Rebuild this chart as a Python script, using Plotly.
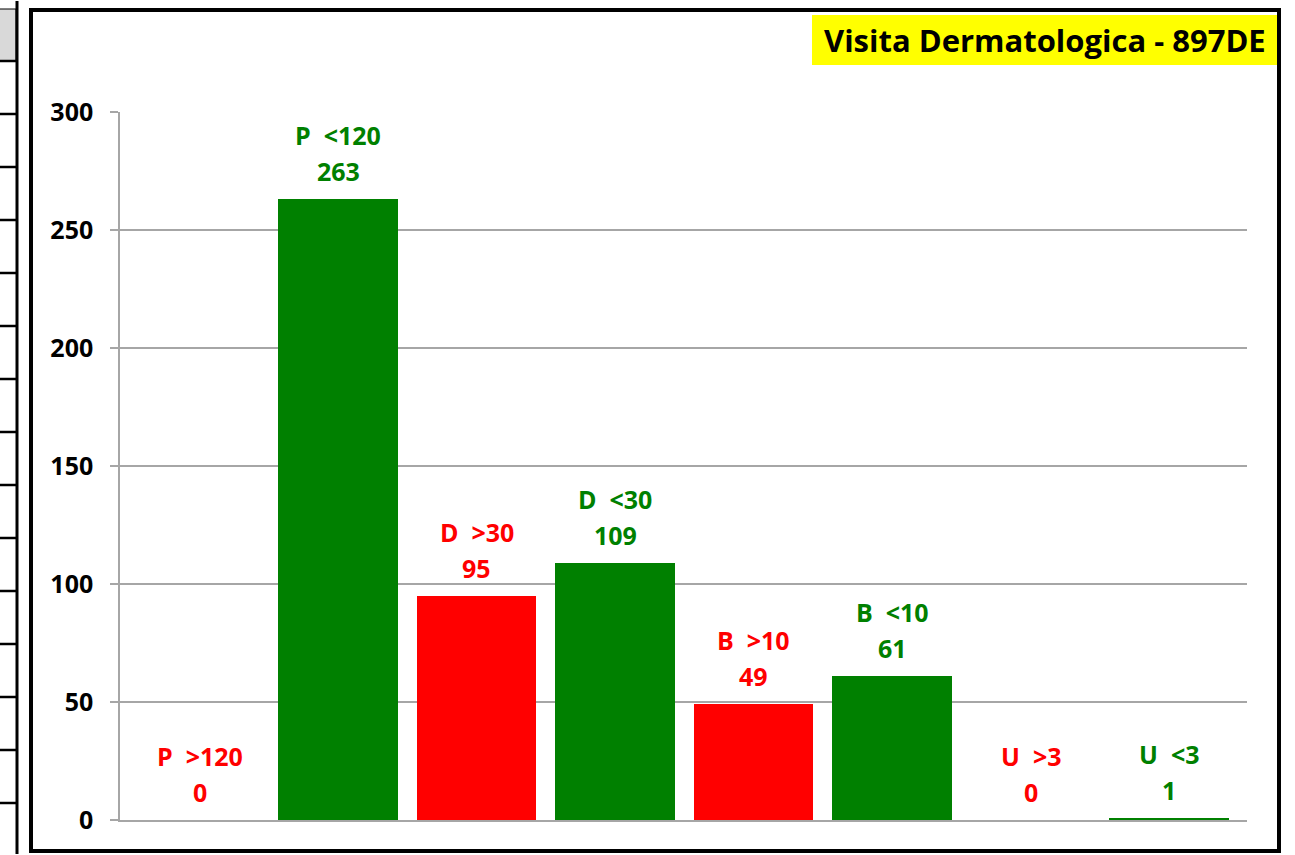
import plotly.graph_objects as go

# ---- data ----
categories = ["P >120", "P <120", "D >30", "D <30", "B >10", "B <10", "U >3", "U <3"]
values = [0, 263, 95, 109, 49, 61, 0, 1]
status = ["over", "within", "over", "within", "over", "within", "over", "within"]
y_ticks = [0, 50, 100, 150, 200, 250, 300]
title_text = "Visita Dermatologica - 897DE"

# ---- styles ----
W, H = 1295, 855
L, R, T, B = 120, 1247, 112, 820
GREEN, RED = "#008000", "#FF0000"
GRID = "#A6A6A6"
FONT = "Open Sans"
colors = [RED if s == "over" else GREEN for s in status]


def px(x):
    return (x - L) / (R - L)


def py(y):
    return (B - y) / (B - T)


def esc(s):
    return s.replace("<", "&lt;").replace(">", "&gt;").replace(" ", "&nbsp;&nbsp;")


xs = list(range(len(categories)))

fig = go.Figure()
fig.add_trace(go.Bar(
    x=xs, y=values, width=0.866, marker=dict(color=colors, line=dict(width=0)),
    hoverinfo="skip", showlegend=False,
))

annotations = []
for x, v, c, col in zip(xs, values, categories, colors):
    annotations.append(dict(x=x, y=v, xref="x", yref="y", text=f"<b>{v}</b>",
                            showarrow=False, yanchor="middle", yshift=28,
                            font=dict(family=FONT, size=25, color=col)))
    annotations.append(dict(x=x, y=v, xref="x", yref="y", text=f"<b>{esc(c)}</b>",
                            showarrow=False, yanchor="middle", yshift=64,
                            font=dict(family=FONT, size=25, color=col)))

# title with yellow box
annotations.append(dict(x=px(1268), y=py(40), xref="paper", yref="paper",
                        text=f"<b>{title_text}</b>", showarrow=False,
                        xanchor="right", yanchor="middle",
                        font=dict(family=FONT, size=31, color="black")))

shapes = []
# yellow title background
shapes.append(dict(type="rect", xref="paper", yref="paper", layer="below",
                   x0=px(812), x1=px(1277), y0=py(65), y1=py(15),
                   fillcolor="#FFFF00", line=dict(width=0)))
# outer chart frame
shapes.append(dict(type="rect", xref="paper", yref="paper",
                   x0=px(31), x1=px(1279), y0=py(851), y1=py(10),
                   line=dict(color="black", width=4), fillcolor="rgba(0,0,0,0)"))
# left strip (spreadsheet fragment)
shapes.append(dict(type="rect", xref="paper", yref="paper",
                   x0=px(-2), x1=px(16), y0=py(61), y1=py(9),
                   fillcolor="#D9D9D9", line=dict(color="black", width=1)))
shapes.append(dict(type="line", xref="paper", yref="paper",
                   x0=px(17), x1=px(17), y0=py(1), y1=py(854),
                   line=dict(color="black", width=3)))
for k in range(15):
    yy = 61 + 53.0 * k
    shapes.append(dict(type="line", xref="paper", yref="paper",
                       x0=px(0), x1=px(16), y0=py(yy), y1=py(yy),
                       line=dict(color="black", width=2.5)))

fig.update_layout(
    width=W, height=H,
    margin=dict(l=L, r=W - R, t=T, b=H - B, autoexpand=False),
    paper_bgcolor="white", plot_bgcolor="white",
    bargap=0,
    annotations=annotations, shapes=shapes,
    xaxis=dict(range=[-0.574, 7.563], showticklabels=False, showgrid=False,
               zeroline=False, showline=True, linecolor=GRID, linewidth=1.5,
               ticks=""),
    yaxis=dict(range=[0, 300], tickvals=y_ticks, showgrid=True, gridcolor=GRID,
               gridwidth=1.5, zeroline=False, showline=True, linecolor=GRID,
               linewidth=1.5, ticks="outside", ticklen=8, tickcolor=GRID,
               tickwidth=1.5, ticklabelstandoff=12,
               tickfont=dict(family=FONT, size=25, color="black", weight="bold")),
)

fig.write_html("out.html", config={"displayModeBar": False},
               post_script="document.body.style.margin='0';")
